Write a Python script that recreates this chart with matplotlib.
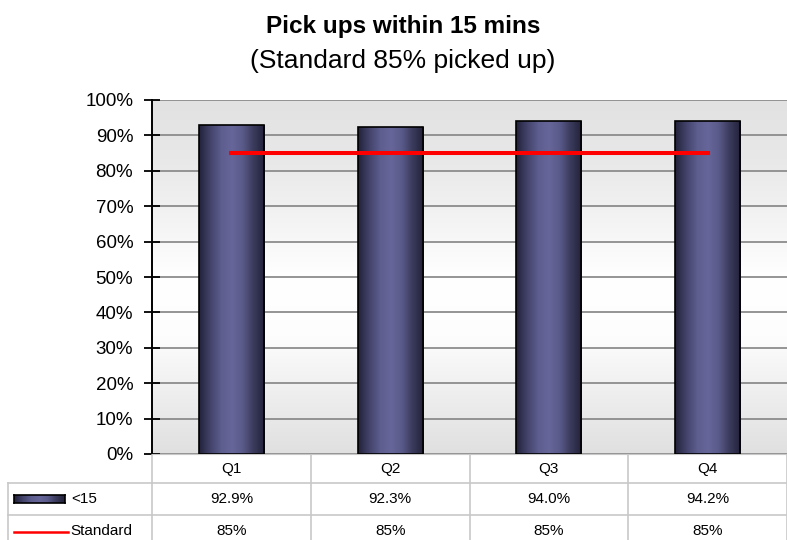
import numpy as np
import matplotlib.pyplot as plt
from matplotlib.colors import LinearSegmentedColormap
from matplotlib.transforms import blended_transform_factory
from matplotlib.lines import Line2D

quarters = ['Q1', 'Q2', 'Q3', 'Q4']
pickup = [92.9, 92.3, 94.0, 94.2]
standard = [85, 85, 85, 85]
pickup_labels = ['92.9%', '92.3%', '94.0%', '94.2%']
standard_labels = ['85%', '85%', '85%', '85%']
yticks = [0, 10, 20, 30, 40, 50, 60, 70, 80, 90, 100]

plt.rcParams['font.family'] = ['Liberation Sans', 'DejaVu Sans']

W, H = 787, 540
fig = plt.figure(figsize=(W / 100, H / 100), dpi=100)
ax = fig.add_axes([152 / W, 1 - 454 / H, 1 - 152 / W, 354 / H])

def fy(py):
    return 1 - py / H

def fx(px):
    return px / W

x = np.arange(len(quarters))

# background gradient (grey - white - grey)
bg = LinearSegmentedColormap.from_list('bg', ['#e0e0e0', '#eeeeee', '#fdfdfd', '#ffffff', '#f3f3f3', '#e8e8e8', '#e2e2e2'])
ax.imshow(np.linspace(0, 1, 256).reshape(-1, 1), cmap=bg, aspect='auto',
          extent=(-0.5, 3.5, 0, 100), origin='lower', zorder=0)

ax.yaxis.grid(True, color='#8c8c8c', lw=1.3, zorder=1)
ax.set_axisbelow(True)

# bars with horizontal gradient
barcmap = LinearSegmentedColormap.from_list('bar', ['#22223a', '#42426a', '#5d5d8e', '#66669a', '#5a5a8a', '#3a3a5c', '#22223a'])
bw = 0.41
bars = ax.bar(x, pickup, width=bw, color='none', edgecolor='black', lw=1.2, zorder=3)
for xi, h, b in zip(x, pickup, bars):
    im = ax.imshow(np.linspace(0, 1, 128).reshape(1, -1), cmap=barcmap, aspect='auto',
                   extent=(xi - bw / 2, xi + bw / 2, 0, h), zorder=2.5)
    im.set_clip_path(b)

ax.plot(x, standard, color='#ff0000', lw=2.9, zorder=4)

ax.set_xlim(-0.5, 3.5)
ax.set_ylim(0, 100)
ax.set_yticks(yticks)
ax.set_yticklabels([f'{v}%' for v in yticks])
ax.set_xticks([])
for s in ['top', 'right']:
    ax.spines[s].set_visible(False)
ax.spines['bottom'].set_color('#c8c8c8')
ax.spines['left'].set_color('black')
ax.spines['left'].set_linewidth(1.4)
ax.tick_params(axis='y', direction='inout', length=11, width=1.3, labelsize=13.5, pad=8, colors='black')

# titles
fig.text(fx(403), fy(33), 'Pick ups within 15 mins', ha='center', va='baseline',
         fontsize=17.5, fontweight='bold')
fig.text(fx(403), fy(68), '(Standard 85% picked up)', ha='center', va='baseline', fontsize=19)

# data table under the chart
tr = blended_transform_factory(ax.transData, fig.transFigure)
gc = '#c8c8c8'
for b in np.arange(-0.5, len(quarters), 1.0):
    fig.add_artist(Line2D([b, b], [fy(455), 0], transform=tr, color=gc, lw=1.2))
for py in [483, 515]:
    fig.add_artist(Line2D([fx(8), 1], [fy(py), fy(py)], color=gc, lw=1.2))
fig.add_artist(Line2D([fx(8), fx(8)], [fy(483), 0], color=gc, lw=1.2))

for xi, q, p, s in zip(x, quarters, pickup_labels, standard_labels):
    fig.text(xi, fy(469), q, transform=tr, ha='center', va='center', fontsize=11)
    fig.text(xi, fy(499), p, transform=tr, ha='center', va='center', fontsize=11)
    fig.text(xi, fy(531), s, transform=tr, ha='center', va='center', fontsize=11)

# legend keys
sw = fig.add_axes([fx(14), fy(503), 51 / W, 8 / H])
sw.imshow(np.linspace(0, 1, 64).reshape(1, -1), cmap=barcmap, aspect='auto')
sw.set_xticks([])
sw.set_yticks([])
for s in sw.spines.values():
    s.set_color('black')
    s.set_linewidth(1.2)
fig.text(fx(71), fy(499), '<15', ha='left', va='center', fontsize=11)
fig.add_artist(Line2D([fx(14), fx(68)], [fy(532), fy(532)], color='#ff0000', lw=1.8))
fig.text(fx(70), fy(531), 'Standard', ha='left', va='center', fontsize=11)

fig.savefig('out.png', dpi=100)
